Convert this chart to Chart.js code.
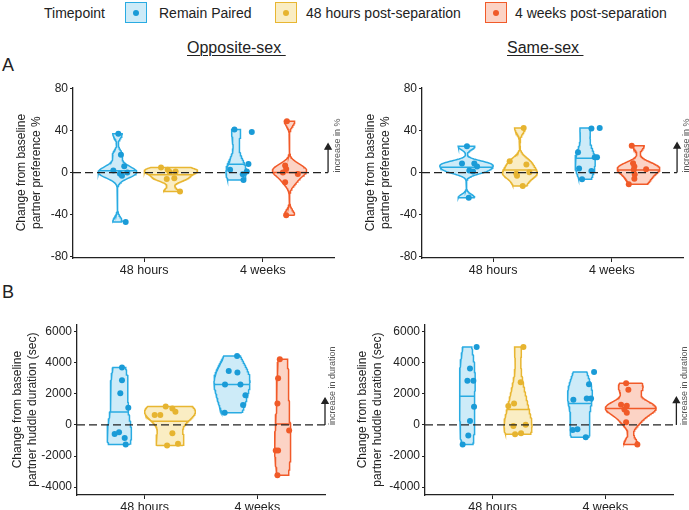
<!DOCTYPE html>
<html>
<head>
<meta charset="utf-8">
<script src="https://cdn.jsdelivr.net/npm/chart.js@4.4.1/dist/chart.umd.min.js"></script>
<style>
  body { margin: 0; background: #fff; font-family: "Liberation Sans", Arial, sans-serif; color: #222; }
  #wrap { position: relative; width: 689px; height: 510px; overflow: hidden; }
  #wrap canvas, .t { position: absolute; }
  .t { white-space: nowrap; line-height: 16px; }
  .key { position: absolute; top: 2px; width: 20px; height: 19px; border: 1.5px solid; }
  .key i { position: absolute; left: 7px; top: 7px; width: 6px; height: 6px; border-radius: 50%; }
  .ttl { font-size: 16px; text-decoration: underline; text-decoration-thickness: 1px; text-underline-offset: 2px; }
</style>
</head>
<body>
<div id="wrap">
  <div class="t" style="left:44px;top:5px;font-size:14px">Timepoint</div>
  <div class="key" style="left:125px;border-color:#29abe2;background:#cdebf8"><i style="background:#1a9bd7"></i></div>
  <div class="t" style="left:159px;top:5px;font-size:14px">Remain Paired</div>
  <div class="key" style="left:275px;border-color:#e8b631;background:#faedc3"><i style="background:#e6b430"></i></div>
  <div class="t" style="left:306px;top:5px;font-size:14px">48 hours post-separation</div>
  <div class="key" style="left:485px;border-color:#f15a29;background:#fcd3c5"><i style="background:#f05a28"></i></div>
  <div class="t" style="left:515px;top:5px;font-size:14px">4 weeks post-separation</div>

  <div class="t ttl" style="left:187px;top:40px">Opposite-sex&nbsp;</div>
  <div class="t ttl" style="left:507px;top:40px">Same-sex&nbsp;</div>
  <div class="t" style="left:2px;top:56px;font-size:18px;line-height:18px">A</div>
  <div class="t" style="left:2px;top:283px;font-size:18px;line-height:18px">B</div>

  <canvas id="aL" width="345" height="205" style="left:0;top:78px"></canvas>
  <canvas id="aR" width="341" height="205" style="left:348px;top:78px"></canvas>
  <canvas id="bL" width="345" height="195" style="left:0;top:315px"></canvas>
  <canvas id="bR" width="341" height="195" style="left:348px;top:315px"></canvas>
</div>
<script>
const groups = ['48 hours', '4 weeks'];

// change from baseline partner preference (%)
const prefOpp48Paired = [37, 17, 6, 2, 0, -1, -3, -47];
const prefOpp48Sep    = [4.8, 2.6, 1, 0.5, -5.4, -6, -18];
const prefOpp4wPaired = [41, 38.7, 8.3, 2.6, 1, -1.6, -7];
const prefOpp4wSep    = [49, 6.7, 3.5, 0, -1.3, -9.3, -40.6];
const prefSame48Paired = [25, 8.6, 8.6, 5.8, 1.9, 1, -24];
const prefSame48Sep    = [42.6, 10.9, 7.7, 0.3, -1, -2.9, -12.8];
const prefSame4wPaired = [42, 42.6, 19.5, 14.7, 14.7, 3.8, 1.6, -6.4];
const prefSame4wSep    = [25.6, 9, 5.8, 2.6, 3.2, -1.9, -5.8, -11.2];

// change from baseline partner huddle duration (sec)
const hudOpp48Paired = [3694, 2882, 2050, 1110, -576, -470, -832, -1260];
const hudOpp48Sep    = [1196, 1068, 854, 640, 640, -534, -1217, -1324];
const hudOpp4wPaired = [4440, 3480, 3373, 2605, 2605, 1921, 1281, 790];
const hudOpp4wSep    = [4227, 3010, 1388, -363, -1644, -1644, -3245];
const hudSame48Paired = [5017, 3630, 2840, 2840, 1174, 256, -683, -1260];
const hudSame48Sep    = [5017, 2754, 1388, 1217, -64, 21, -598, -534];
const hudSame4wPaired = [3416, 2626, 1623, 1708, 1708, -320, -278, -790];
const hudSame4wSep    = [2690, 2263, 1302, 1238, 1003, 790, 171, -1260];

// horizontal jitter of each point
const jitPrefOpp = [
  [0.007, 0.029, 0.057, -0.035, 0.083, 0.021, 0.038, 0.069],
  [-0.083, -0.027, 0.04, -0.01, 0.029, -0.035, 0.077],
  [-0.014, 0.132, 0.104, -0.051, 0.09, 0.056, 0.062],
  [-0.022, -0.037, -0.028, -0.056, 0.07, -0.037, -0.028]
];
const jitPrefSame = [
  [0.004, -0.038, 0.066, 0.089, 0.024, 0.055, 0.019],
  [0.032, -0.086, 0.055, 0.08, -0.03, -0.024, 0.024],
  [0.053, 0.123, -0.06, 0.081, 0.1, -0.051, 0.053, -0.026],
  [-0.057, -0.046, -0.035, -0.04, 0.064, -0.032, -0.035, -0.082]
];
const jitHudOpp = [
  [0.024, 0.024, 0.009, 0.08, -0.041, -0.002, 0.048, 0.057],
  [-0.038, 0.021, 0.048, -0.136, -0.086, 0.021, 0.071, -0.026],
  [0.045, -0.029, 0.048, -0.062, 0.075, 0.119, 0.098, -0.065],
  [-0.026, -0.041, -0.047, 0.057, -0.062, -0.041, -0.047]
];
const jitHudSame = [
  [0.083, 0.024, 0.001, 0.054, 0.06, 0.024, 0.009, -0.041],
  [0.048, 0.024, -0.035, -0.086, -0.041, 0.068, -0.026, 0.027],
  [0.125, 0.08, -0.059, 0.06, 0.098, -0.065, -0.023, 0.051],
  [-0.041, -0.021, -0.086, -0.035, -0.056, -0.035, -0.041, 0.059]
];

const prefTicks = [-80, -40, 0, 40, 80];
const hudTicks = [-4000, -2000, 0, 2000, 4000, 6000];

const line = ['#29abe2', '#e8b631', '#f15a29'];
const fill = ['#cdebf8', '#faedc3', '#fcd3c5'];
const dot  = ['#1a9bd7', '#e6b430', '#f05a28'];
const ink = '#222';

Chart.defaults.font.family = '"Liberation Sans", Arial, sans-serif';
Chart.defaults.color = ink;

function bwNrd0(v) {
  const n = v.length, s = [...v].sort((a, b) => a - b);
  const mean = s.reduce((a, b) => a + b, 0) / n;
  const sd = Math.sqrt(s.reduce((a, b) => a + (b - mean) ** 2, 0) / (n - 1));
  const q = p => { const h = (n - 1) * p, lo = Math.floor(h); return s[lo] + (h - lo) * (s[Math.min(lo + 1, n - 1)] - s[lo]); };
  let lo = Math.min(sd, (q(0.75) - q(0.25)) / 1.34);
  if (!lo) lo = sd || Math.abs(s[0]) || 1;
  return 0.9 * lo * Math.pow(n, -0.2);
}

function density(v) {
  const bw = bwNrd0(v), lo = Math.min(...v), hi = Math.max(...v), m = 128;
  const ys = [], ds = [];
  for (let i = 0; i < m; i++) {
    const y = lo + (hi - lo) * i / (m - 1);
    let d = 0;
    v.forEach(x => { const z = (y - x) / bw; d += Math.exp(-0.5 * z * z); });
    ys.push(y);
    ds.push(d / (v.length * bw * Math.sqrt(2 * Math.PI)));
  }
  return { ys, ds };
}

function interp(xs, ys, x) {
  for (let i = 1; i < xs.length; i++) {
    if (x <= xs[i]) {
      const t = (x - xs[i - 1]) / ((xs[i] - xs[i - 1]) || 1);
      return ys[i - 1] + t * (ys[i] - ys[i - 1]);
    }
  }
  return ys[ys.length - 1];
}

const arrowPlugin = {
  id: 'arrowText',
  afterDraw(chart) {
    const o = chart.options.plugins.arrowText;
    const { ctx, scales } = chart;
    ctx.save();
    ctx.translate(scales.x.getPixelForValue(o.x), scales.y.getPixelForValue(0));
    ctx.rotate(-Math.PI / 2);
    ctx.font = '9px "Liberation Sans", Arial, sans-serif';
    ctx.fillStyle = '#555';
    ctx.textAlign = 'left';
    ctx.textBaseline = 'middle';
    ctx.fillText(o.text, 0, 0);
    ctx.restore();
  }
};

function makePanel(id, series, jitter, colorIdx, yMin, yMax, ticks, title, p) {
  const centers = [0.775, 1.225, 1.775, 2.225];
  const dens = series.map(density);
  const maxD = Math.max(...dens.map(d => Math.max(...d.ds)));
  const datasets = [];

  series.forEach((v, k) => {
    const c = colorIdx[k], cx = centers[k];
    const { ys, ds } = dens[k];
    const hw = ds.map(d => 0.225 * d / maxD);
    const outline = [];
    ys.forEach((y, i) => outline.push({ x: cx + hw[i], y }));
    for (let i = ys.length - 1; i >= 0; i--) outline.push({ x: cx - hw[i], y: ys[i] });
    outline.push(outline[0]);
    datasets.push({
      data: outline, showLine: true, fill: 'shape', pointRadius: 0,
      borderColor: line[c], backgroundColor: fill[c], borderWidth: 1.5, order: 4
    });
    // median of the density, as ggplot's draw_quantiles
    const cum = [];
    let acc = 0;
    const tot = ds.reduce((a, b) => a + b, 0);
    ds.forEach(d => { acc += d; cum.push(acc / tot); });
    const ym = interp(cum, ys, 0.5);
    const wm = interp(ys, hw, ym);
    datasets.push({
      data: [{ x: cx - wm, y: ym }, { x: cx + wm, y: ym }], showLine: true, pointRadius: 0,
      borderColor: line[c], borderWidth: 1.5, order: 3
    });
    datasets.push({
      data: v.map((y, i) => ({ x: cx + jitter[k][i], y })),
      pointRadius: 3, pointBackgroundColor: dot[c], pointBorderWidth: 0, order: 2
    });
  });

  datasets.push({
    data: [{ x: 0.4, y: 0 }, { x: p.arrowX, y: 0 }], showLine: true, pointRadius: 0,
    borderColor: ink, borderWidth: 1.3, borderDash: [8, 4], order: 1
  });
  datasets.push({
    data: [{ x: p.arrowX, y: 0 }, { x: p.arrowX, y: p.arrowTop }], showLine: true,
    pointRadius: [0, 3.5], pointStyle: 'triangle', pointBackgroundColor: ink, pointBorderColor: ink,
    borderColor: ink, borderWidth: 1.3, order: 1, clip: false
  });

  new Chart(document.getElementById(id), {
    type: 'scatter',
    data: { datasets },
    plugins: [arrowPlugin],
    options: {
      responsive: false,
      animation: false,
      devicePixelRatio: 1,
      layout: { padding: { left: 0, top: p.top, right: p.right, bottom: 0 } },
      plugins: {
        legend: { display: false },
        tooltip: { enabled: false },
        arrowText: { x: p.textX, text: p.text }
      },
      scales: {
        x: {
          type: 'linear', min: 0.4, max: 2.6,
          afterBuildTicks: a => { a.ticks = [{ value: 1 }, { value: 2 }]; },
          afterFit: a => { a.height = p.xh; },
          ticks: { callback: v => groups[v - 1], font: { size: 12.5 }, color: ink, padding: 1, maxRotation: 0 },
          grid: { drawOnChartArea: false, tickLength: 4, color: ink },
          border: { color: ink, width: 1.3 }
        },
        y: {
          min: yMin, max: yMax,
          afterBuildTicks: a => { a.ticks = ticks.map(value => ({ value })); },
          afterFit: a => { a.width = p.yw; },
          ticks: { callback: v => String(v), font: { size: 12 }, color: ink, padding: 2 },
          grid: { drawOnChartArea: false, tickLength: 3, color: ink },
          border: { color: ink, width: 1.3 },
          title: {
            display: true, text: title, color: ink,
            font: { size: 12, lineHeight: 1.25 }, padding: { top: p.tp, bottom: 0 }
          }
        }
      }
    }
  });
}

const prefTitle = ['Change from baseline', 'partner preference %'];
const hudTitle = ['Change from baseline', 'partner huddle duration (sec)'];
const colorIdx = [0, 1, 0, 2];

makePanel('aL', [prefOpp48Paired, prefOpp48Sep, prefOpp4wPaired, prefOpp4wSep], jitPrefOpp, colorIdx,
  -81.4, 81.4, prefTicks, prefTitle,
  { top: 9, right: 11, xh: 25, yw: 73, tp: 14.5, arrowX: 2.55, arrowTop: 24, textX: 2.63, text: 'increase in %' });
makePanel('aR', [prefSame48Paired, prefSame48Sep, prefSame4wPaired, prefSame4wSep], jitPrefSame, colorIdx,
  -81.4, 81.4, prefTicks, prefTitle,
  { top: 9, right: 6, xh: 25, yw: 74, tp: 15.2, arrowX: 2.55, arrowTop: 25, textX: 2.63, text: 'increase in %' });
makePanel('bL', [hudOpp48Paired, hudOpp48Sep, hudOpp4wPaired, hudOpp4wSep], jitHudOpp, colorIdx,
  -4510, 6490, hudTicks, hudTitle,
  { top: 8, right: 20, xh: 15, yw: 77, tp: 10.5, arrowX: 2.6, arrowTop: 1500, textX: 2.67, text: 'increase in duration' });
makePanel('bR', [hudSame48Paired, hudSame48Sep, hudSame4wPaired, hudSame4wSep], jitHudSame, colorIdx,
  -4510, 6490, hudTicks, hudTitle,
  { top: 8, right: 16, xh: 15, yw: 77, tp: 7.5, arrowX: 2.63, arrowTop: 1550, textX: 2.7, text: 'increase in duration' });
</script>
</body>
</html>
